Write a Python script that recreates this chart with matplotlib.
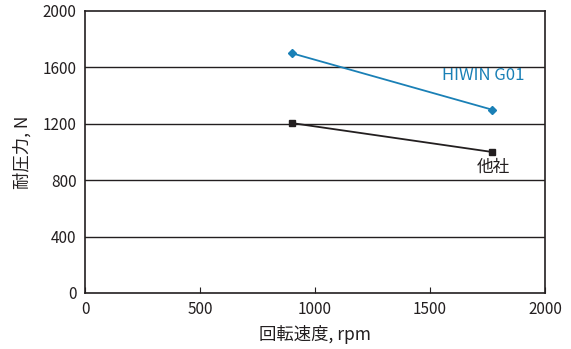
import matplotlib
matplotlib.use('Agg')
import matplotlib.pyplot as plt

plt.rcParams['font.family'] = ['Noto Sans CJK JP', 'DejaVu Sans']

# data
speed = [900, 1770]
hiwin = [1700, 1300]
other = [1205, 1000]
xticks = [0, 500, 1000, 1500, 2000]
yticks = [0, 400, 800, 1200, 1600, 2000]

dark = '#231f20'
blue = '#1a80b6'

fig = plt.figure(figsize=(5.71, 3.49), dpi=100)
ax = fig.add_axes([0.1489, 0.1605, 0.8056, 0.808])

for y in yticks[1:-1]:
    ax.axhline(y, color=dark, lw=1.0, zorder=1)

ax.plot(speed, hiwin, color=blue, lw=1.3, marker='D', ms=4.5, zorder=3)
ax.plot(speed, other, color=dark, lw=1.3, marker='s', ms=5, zorder=3)

ax.text(1730, 1540, 'HIWIN G01', color=blue, fontsize=12, ha='center', va='center')
ax.text(1774, 890, '他社', color=dark, fontsize=12, ha='center', va='center')

ax.set_xlim(0, 2000)
ax.set_ylim(0, 2000)
ax.set_xticks(xticks)
ax.set_yticks(yticks)
ax.tick_params(axis='x', direction='in', length=4, color=dark, labelcolor=dark,
               labelsize=11, pad=6)
ax.tick_params(axis='y', length=0, labelcolor=dark, labelsize=11, pad=6)
for s in ax.spines.values():
    s.set_color(dark)
    s.set_linewidth(1.2)

ax.set_xlabel('回転速度, rpm', fontsize=12.5, color=dark, labelpad=5)
ax.set_ylabel('耐圧力, N', fontsize=12.5, color=dark, labelpad=8)

fig.savefig('out.png', dpi=100)
